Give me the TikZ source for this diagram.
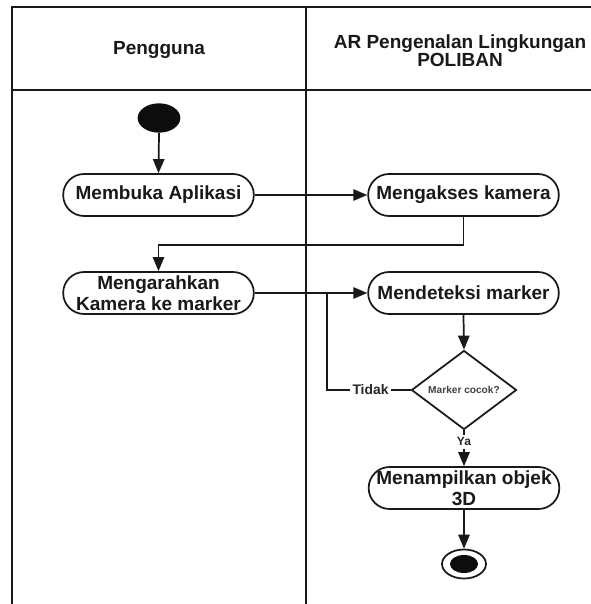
\documentclass[tikz,border=0pt]{standalone}
\usepackage{fontspec}
\setmainfont{Liberation Sans}
\usetikzlibrary{shapes.geometric,arrows.meta}
\begin{document}
\begin{tikzpicture}[x=0.75pt,y=-0.75pt,
  lw/.style={line width=1.3pt, draw=black!90},
  act/.style={lw, rectangle, rounded corners=15.7pt, minimum width=143pt, minimum height=31.5pt,
    inner sep=0pt, align=center, text=black!90, font=\bfseries\fontsize{14.25}{15.5}\selectfont},
  hdr/.style={align=center, text=black!90, font=\bfseries\fontsize{14.25}{13.5}\selectfont},
  arr/.style={lw, -{Triangle[length=10.5pt,width=8.5pt]}},
  lbl/.style={fill=white, inner sep=2pt, text=black!85, font=\bfseries\fontsize{10.4}{12}\selectfont}
]
\useasboundingbox (0,0) rectangle (591,604);
% swimlane frame
\draw[lw] (591,7) -- (12,7) -- (12,604);
\draw[lw] (306,7) -- (306,604);
\draw[lw] (12,90) -- (591,90);
\node[hdr] (hdrA) at (159,50) {Pengguna};
\node[hdr] (hdrB) at (460,51) {AR Pengenalan Lingkungan\\POLIBAN};
% nodes
\node[ellipse, fill=black!95, minimum width=32pt, minimum height=22pt, inner sep=0pt] (start) at (159,118) {};
\node[act] (membuka) at (158.5,195) {Membuka Aplikasi};
\node[act] (mengakses) at (463.5,195) {Mengakses kamera};
\node[act] (mengarahkan) at (158.5,293) {Mengarahkan\\Kamera ke marker};
\node[act] (mendeteksi) at (463.5,293) {Mendeteksi marker};
\node[lw, diamond, minimum width=78.75pt, minimum height=52.5pt, inner sep=0pt, text=black!75,
  font=\bfseries\fontsize{7.6}{9}\selectfont] (decision) at (464,390) {Marker cocok?};
\node[act] (menampilkan) at (464,488) {Menampilkan objek\\3D};
\node[lw, ellipse, minimum width=33pt, minimum height=21.75pt, inner sep=0pt] (end) at (464,564) {};
\node[ellipse, fill=black!95, minimum width=21pt, minimum height=13.5pt, inner sep=0pt] (endin) at (end.center) {};
\coordinate (join) at (327,293);
% connectors
\draw[arr] (start.south) -- (membuka.north);
\draw[arr] (membuka.east) -- (mengakses.west);
\draw[arr] (mengakses.south) -- ++(0,28) -| (mengarahkan.north);
\draw[arr] (mengarahkan.east) -- (mendeteksi.west);
\draw[arr] (mendeteksi.south) -- (decision.north);
\draw[lw] (decision.west) -- node[lbl, pos=0.48] {Tidak} (decision.west -| join) -- (join);
\draw[arr] (decision.south) -- node[lbl, pos=0.32, font=\bfseries\fontsize{9}{10}\selectfont] {Ya} (menampilkan.north);
\draw[arr] (menampilkan.south) -- (end.north);
\end{tikzpicture}
\end{document}
